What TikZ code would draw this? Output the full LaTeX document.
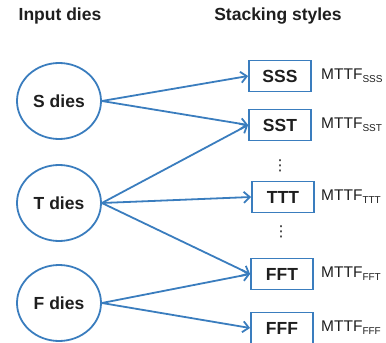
\documentclass[tikz,border=0pt]{standalone}
\usepackage{fontspec}
\setmainfont{Liberation Sans}
\newfontfamily\symfont{DejaVu Sans}
\usetikzlibrary{arrows.meta,shapes.geometric}
\definecolor{lineblue}{RGB}{58,125,190}
\definecolor{txt}{RGB}{30,30,30}
\tikzset{
  die/.style={draw=lineblue, line width=1.8pt, ellipse, minimum width=84pt, minimum height=76pt, inner sep=0pt, font=\bfseries\fontsize{17.5}{20}\selectfont, text=txt},
  stylebox/.style={draw=lineblue, line width=1.8pt, rectangle, minimum width=62pt, minimum height=31pt, inner sep=0pt, font=\bfseries\fontsize{17.5}{20}\selectfont, text=txt},
  mttf/.style={anchor=west, inner sep=0pt, font=\fontsize{15.5}{18}\selectfont, text=txt},
  head/.style={font=\bfseries\fontsize{17.5}{20}\selectfont, text=txt, inner sep=0pt},
  link/.style={draw=lineblue, line width=1.8pt, -{Straight Barb[length=6pt,width=11pt,line width=1.8pt]}},
  vdots/.style={font=\symfont\fontsize{15}{16}\selectfont, text=txt, inner sep=0pt}
}
\newcommand{\mttfsub}[1]{MTTF\raisebox{-3pt}{\fontsize{10}{12}\selectfont #1}}
\begin{document}
\begin{tikzpicture}[x=1pt,y=-1pt]
  \useasboundingbox (0,0) rectangle (386,343);
  % column headings
  \node[head] (h1) at (60,16) {Input dies};
  \node[head] (h2) at (278,16) {Stacking styles};
  % input dies
  \node[die] (S) at (59,101) {S dies};
  \node[die] (T) at (59,203) {T dies};
  \node[die] (F) at (59,303) {F dies};
  % stacking styles
  \node[stylebox] (SSS) at (280,76) {SSS};
  \node[stylebox] (SST) at (280,125) {SST};
  \node[stylebox] (TTT) at (283,197) {TTT};
  \node[stylebox] (FFT) at (282,274) {FFT};
  \node[stylebox] (FFF) at (282,328) {FFF};
  % elided styles
  \node[vdots] (d1) at (280,166) {⋮};
  \node[vdots] (d2) at (281,232) {⋮};
  % lifetimes
  \node[mttf] (m1) at (321,76) {\mttfsub{SSS}};
  \node[mttf] (m2) at (321,125) {\mttfsub{SST}};
  \node[mttf] (m3) at (321,197) {\mttfsub{TTT}};
  \node[mttf] (m4) at (321,274) {\mttfsub{FFT}};
  \node[mttf] (m5) at (321,328) {\mttfsub{FFF}};
  % connections
  \draw[link] (S.east) -- (SSS.west);
  \draw[link] (S.east) -- (SST.west);
  \draw[link] (T.east) -- (SST.west);
  \draw[link] (T.east) -- (TTT.west);
  \draw[link] (T.east) -- (FFT.west);
  \draw[link] (F.east) -- (FFT.west);
  \draw[link] (F.east) -- (FFF.west);
\end{tikzpicture}
\end{document}
